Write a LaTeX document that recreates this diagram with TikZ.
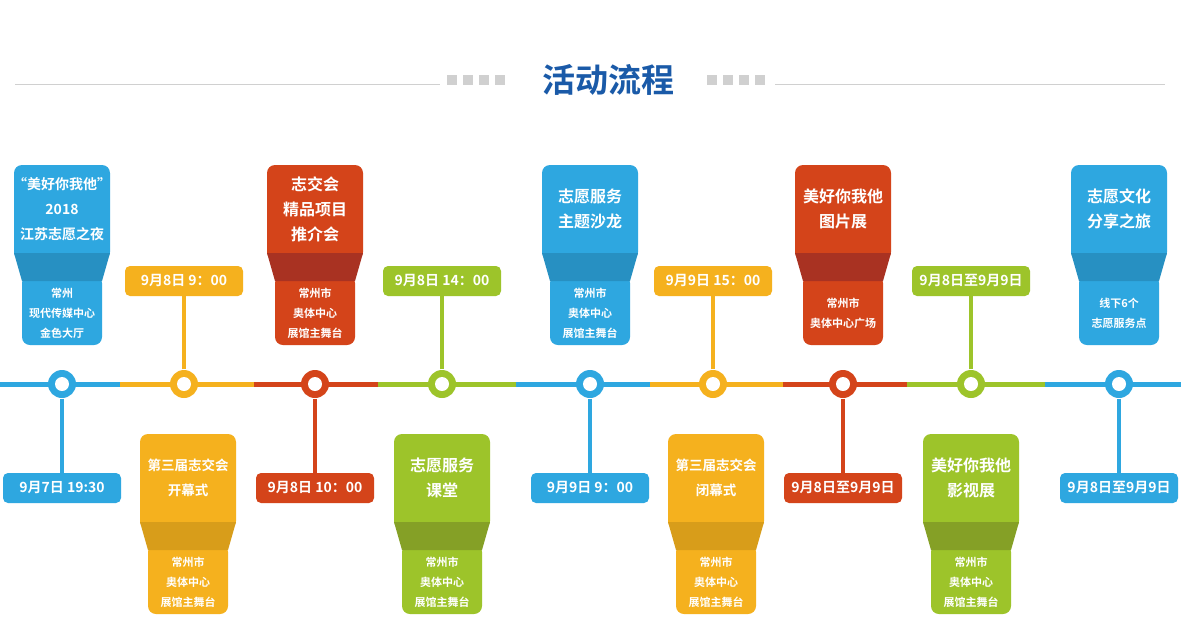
\documentclass[tikz,border=0pt]{standalone}
\usepackage{fontspec}
\setmainfont{Noto Sans CJK SC}[BoldFont={Noto Sans CJK SC Bold}]
\usetikzlibrary{positioning}
\definecolor{cblue}{HTML}{2EA7E0}
\definecolor{dblue}{HTML}{2790C2}
\definecolor{cyellow}{HTML}{F5B11E}
\definecolor{dyellow}{HTML}{D89D1A}
\definecolor{cred}{HTML}{D4441A}
\definecolor{dred}{HTML}{A93222}
\definecolor{cgreen}{HTML}{9DC42A}
\definecolor{dgreen}{HTML}{85A026}
\definecolor{titleblue}{HTML}{1A5AA8}
\definecolor{rulegrey}{HTML}{D0D0D0}
% card: #1 x, #2 top y, #3 colour, #4 dark, #5 main text, #6 sub text, #7 name, #8 main size
\newcommand{\evcard}[8]{%
  \fill[#3, rounded corners=8pt] (#1-48,#2) rectangle (#1+48,#2+95);
  \fill[#3, rounded corners=8pt] (#1-40,#2+110) rectangle (#1+40,#2+180);
  \fill[#4] (#1-48,#2+88) -- (#1+48,#2+88) -- (#1+40,#2+116) -- (#1-40,#2+116) -- cycle;
  \node[maintxt, font=\bfseries\fontsize{#8}{25}\selectfont] (#7m) at (#1,#2+44) {#5};
  \node[subtxt] (#7s) at (#1,#2+148) {#6};
}
\begin{document}
\begin{tikzpicture}[x=1pt, y=-1pt, font=\bfseries]
\tikzset{
  maintxt/.style={text=white, align=center},
  subtxt/.style={text=white, align=center, font=\bfseries\fontsize{11}{20}\selectfont},
  datelbl/.style={rounded corners=5pt, minimum width=118pt, minimum height=30pt, text=white, inner sep=0pt, font=\bfseries\fontsize{14}{14}\selectfont},
  stop/.style={circle, minimum size=29pt, inner sep=0pt},
  sq/.style={fill=rulegrey, minimum size=10pt, inner sep=0pt}
}
\useasboundingbox (0,0) rectangle (1181,641);
\fill[white] (0,0) rectangle (1181,641);
% heading
\node[text=titleblue, font=\bfseries\fontsize{33}{33}\selectfont] (title) at (608,80) {活动流程};
\draw[rulegrey] (15,84) -- (440,84);
\draw[rulegrey] (775,84) -- (1165,84);
\foreach \i in {0,1,2,3}{
  \node[sq] at (452+\i*16,80) {};
  \node[sq] at (712+\i*16,80) {};
}
% timeline segments
\foreach \a/\b/\c in {0/120/cblue,120/254/cyellow,254/378/cred,378/516/cgreen,516/650/cblue,650/783/cyellow,783/907/cred,907/1045/cgreen,1045/1181/cblue}
  \draw[\c, line width=5pt] (\a,384) -- (\b,384);
% cards
\evcard{62}{165}{cblue}{dblue}{“美好你我他”\\2018\\江苏志愿之夜}{常州\\现代传媒中心\\金色大厅}{c1}{14}
\evcard{188}{434}{cyellow}{dyellow}{第三届志交会\\开幕式}{常州市\\奥体中心\\展馆主舞台}{c2}{13.5}
\evcard{315}{165}{cred}{dred}{志交会\\精品项目\\推介会}{常州市\\奥体中心\\展馆主舞台}{c3}{16}
\evcard{442}{434}{cgreen}{dgreen}{志愿服务\\课堂}{常州市\\奥体中心\\展馆主舞台}{c4}{16}
\evcard{590}{165}{cblue}{dblue}{志愿服务\\主题沙龙}{常州市\\奥体中心\\展馆主舞台}{c5}{16}
\evcard{716}{434}{cyellow}{dyellow}{第三届志交会\\闭幕式}{常州市\\奥体中心\\展馆主舞台}{c6}{13.5}
\evcard{843}{165}{cred}{dred}{美好你我他\\图片展}{常州市\\奥体中心广场}{c7}{16}
\evcard{971}{434}{cgreen}{dgreen}{美好你我他\\影视展}{常州市\\奥体中心\\展馆主舞台}{c8}{16}
\evcard{1119}{165}{cblue}{dblue}{志愿文化\\分享之旅}{线下6个\\志愿服务点}{c9}{16}
% date labels
\node[datelbl, fill=cblue]   (d1) at (62,488)   {9月7日 19:30};
\node[datelbl, fill=cyellow] (d2) at (184,281)  {9月8日 9：00};
\node[datelbl, fill=cred]    (d3) at (315,488)  {9月8日 10：00};
\node[datelbl, fill=cgreen]  (d4) at (442,281)  {9月8日 14：00};
\node[datelbl, fill=cblue]   (d5) at (590,488)  {9月9日 9：00};
\node[datelbl, fill=cyellow] (d6) at (713,281)  {9月9日 15：00};
\node[datelbl, fill=cred]    (d7) at (843,488)  {9月8日至9月9日};
\node[datelbl, fill=cgreen]  (d8) at (971,281)  {9月8日至9月9日};
\node[datelbl, fill=cblue]   (d9) at (1119,488) {9月8日至9月9日};
% stops and stems
\foreach \n/\x/\c in {1/62/cblue,2/184/cyellow,3/315/cred,4/442/cgreen,5/590/cblue,6/713/cyellow,7/843/cred,8/971/cgreen,9/1119/cblue}{
  \node[stop] (s\n) at (\x,384) {};
  \draw[\c, line width=4pt] (s\n) -- (d\n);
  \fill[\c] (s\n) circle (14pt);
  \fill[white] (s\n) circle (7pt);
}
\end{tikzpicture}
\end{document}
